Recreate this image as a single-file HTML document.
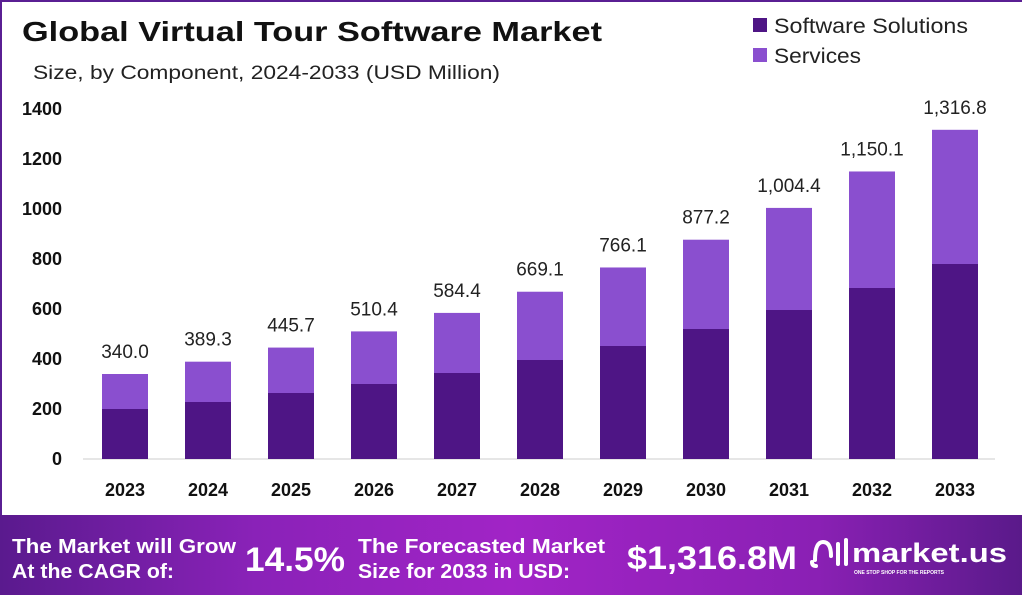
<!DOCTYPE html>
<html><head><meta charset="utf-8"><style>
body{margin:0;width:1022px;height:595px;overflow:hidden;background:#fff;font-family:"Liberation Sans",sans-serif;}
</style></head><body>
<svg width="1022" height="595" xmlns="http://www.w3.org/2000/svg" style="display:block">
<defs>
<linearGradient id="ft" x1="0" x2="1" y1="0" y2="0">
<stop offset="0" stop-color="#5a1a8e"/><stop offset="0.25" stop-color="#8a22b8"/>
<stop offset="0.5" stop-color="#a124c6"/><stop offset="0.8" stop-color="#8a20b4"/>
<stop offset="1" stop-color="#5a1a8a"/></linearGradient>
</defs>
<rect x="0" y="0" width="1022" height="2" fill="#5a1f93"/>
<rect x="0" y="0" width="2" height="515" fill="#5a1f93"/>
<text x="22" y="41" font-size="28" font-weight="bold" fill="#111" textLength="580" lengthAdjust="spacingAndGlyphs">Global Virtual Tour Software Market</text>
<text x="33" y="79" font-size="19" fill="#222" textLength="467" lengthAdjust="spacingAndGlyphs">Size, by Component, 2024-2033 (USD Million)</text>
<rect x="753" y="18" width="14" height="14" fill="#4e1585"/>
<text x="774" y="33" font-size="21" fill="#222" textLength="194" lengthAdjust="spacingAndGlyphs">Software Solutions</text>
<rect x="753" y="48" width="14" height="14" fill="#8a4fcf"/>
<text x="774" y="63" font-size="21" fill="#222" textLength="87" lengthAdjust="spacingAndGlyphs">Services</text>
<g font-size="18" font-weight="bold" fill="#111" text-anchor="end">
<text x="62" y="465">0</text><text x="62" y="415">200</text><text x="62" y="365">400</text>
<text x="62" y="315">600</text><text x="62" y="265">800</text><text x="62" y="215">1000</text>
<text x="62" y="165">1200</text><text x="62" y="115">1400</text>
</g>
<line x1="83" y1="459" x2="995" y2="459" stroke="#ccc" stroke-width="1"/>
<g id="bars"></g>
<rect x="0" y="515" width="1022" height="80" fill="url(#ft)"/>
<g fill="#fff" font-weight="bold">
<text x="12" y="553" font-size="20" textLength="224" lengthAdjust="spacingAndGlyphs">The Market will Grow</text>
<text x="12" y="578" font-size="20" textLength="162" lengthAdjust="spacingAndGlyphs">At the CAGR of:</text>
<text x="245" y="571" font-size="34" textLength="100" lengthAdjust="spacingAndGlyphs">14.5%</text>
<text x="358" y="553" font-size="20" textLength="247" lengthAdjust="spacingAndGlyphs">The Forecasted Market</text>
<text x="358" y="578" font-size="20" textLength="212" lengthAdjust="spacingAndGlyphs">Size for 2033 in USD:</text>
<text x="627" y="569" font-size="32" textLength="170" lengthAdjust="spacingAndGlyphs">$1,316.8M</text>
<text x="852" y="562" font-size="27" textLength="155" lengthAdjust="spacingAndGlyphs">market.us</text>
<text x="854" y="574" font-size="5">ONE STOP SHOP FOR THE REPORTS</text>
<path d="M815 560 q0 -18 8 -18 q8 0 8 14 M816 566 q-4 0 -4 -4 M838 544 v20 M846 540 v24" stroke="#fff" stroke-width="4" fill="none" stroke-linecap="round"/>
</g>
</svg>
<script>
var d=[[2023,200,340.0,"340.0"],[2024,228,389.3,"389.3"],[2025,264,445.7,"445.7"],[2026,300,510.4,"510.4"],[2027,344,584.4,"584.4"],[2028,396,669.1,"669.1"],[2029,452,766.1,"766.1"],[2030,520,877.2,"877.2"],[2031,596,1004.4,"1,004.4"],[2032,684,1150.1,"1,150.1"],[2033,780,1316.8,"1,316.8"]];
var s="";
d.forEach(function(r,i){var cx=125+i*83,x=cx-23,y0=459;
var yd=y0-r[1]*0.25,yt=y0-r[2]*0.25;
s+='<rect x="'+x+'" y="'+yt+'" width="46" height="'+(yd-yt)+'" fill="#8a4fcf"/>';
s+='<rect x="'+x+'" y="'+yd+'" width="46" height="'+(y0-yd)+'" fill="#4e1585"/>';
s+='<text x="'+cx+'" y="'+(yt-16)+'" font-size="19" fill="#222" text-anchor="middle">'+r[3]+'</text>';
s+='<text x="'+cx+'" y="496" font-size="18" font-weight="bold" fill="#111" text-anchor="middle">'+r[0]+'</text>';});
document.getElementById("bars").innerHTML=s;
</script>
</body></html>
